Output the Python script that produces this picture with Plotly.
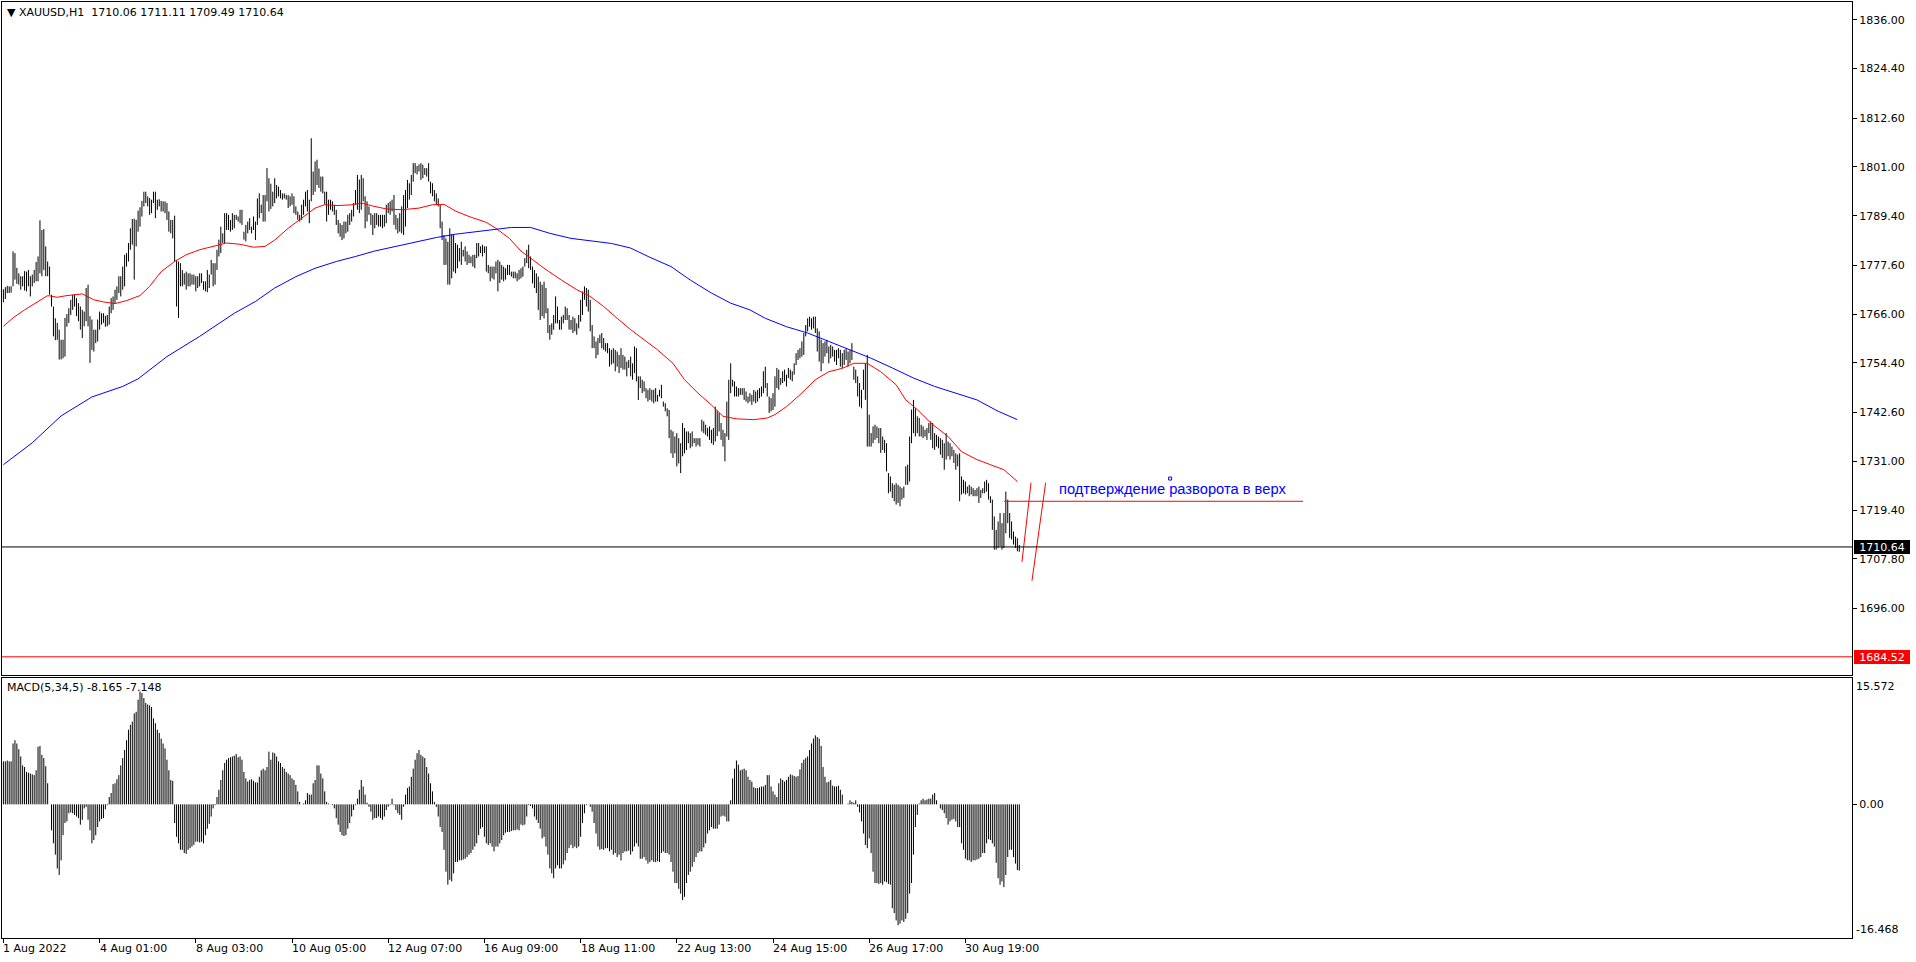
import plotly.graph_objects as go

# XAUUSD H1, August 2022 - bar highs / lows
highs = [
    1771.9, 1772.4, 1772.7, 1772.6, 1772.6, 1780.9, 1780.5, 1777.0, 1775.7, 1775.0, 1775.0, 1776.2, 1776.1, 1776.5,
    1775.0, 1775.4, 1776.5, 1778.4, 1779.7, 1788.3, 1786.0, 1786.2, 1782.1, 1778.5, 1777.3, 1770.6, 1767.8, 1765.0,
    1763.9, 1762.3, 1759.9, 1759.9, 1765.1, 1766.0, 1767.4, 1769.4, 1770.6, 1770.6, 1769.8, 1768.6, 1767.8, 1767.0,
    1766.6, 1772.2, 1773.0, 1765.5, 1764.7, 1762.3, 1762.3, 1764.7, 1766.6, 1766.2, 1766.2, 1765.6, 1765.8, 1767.8,
    1769.8, 1770.2, 1771.8, 1772.6, 1775.0, 1775.0, 1777.3, 1780.1, 1780.5, 1782.9, 1786.4, 1788.6, 1788.7, 1788.4,
    1790.6, 1791.4, 1792.9, 1795.1, 1795.1, 1794.0, 1793.6, 1793.2, 1795.1, 1795.1, 1793.2, 1793.3, 1792.9, 1792.8,
    1792.8, 1792.4, 1790.4, 1788.4, 1788.4, 1789.4, 1778.9, 1778.5, 1778.1, 1776.5, 1775.7, 1776.1, 1775.7, 1775.7,
    1775.4, 1775.4, 1775.0, 1775.0, 1775.7, 1775.7, 1773.8, 1773.8, 1776.5, 1775.4, 1778.9, 1778.1, 1778.1, 1781.3,
    1783.7, 1786.8, 1785.2, 1790.0, 1790.0, 1789.6, 1788.4, 1790.0, 1789.6, 1789.6, 1789.2, 1790.8, 1790.8, 1785.6,
    1787.2, 1788.0, 1788.8, 1786.8, 1789.2,
    1788.0, 1793.5, 1794.7, 1792.0, 1794.3, 1794.3, 1800.7, 1798.3, 1797.0, 1795.1, 1798.3, 1796.7, 1796.3, 1795.5,
    1794.7, 1794.7, 1794.3, 1794.3, 1794.0, 1794.7, 1794.0, 1791.6, 1790.4, 1789.6, 1792.0, 1793.2, 1795.1, 1795.5,
    1793.2, 1807.8, 1799.9, 1802.3, 1802.7, 1800.6, 1798.7, 1798.7, 1795.1, 1795.1, 1793.2, 1793.2, 1792.8, 1792.0,
    1790.8, 1788.4, 1787.6, 1787.2, 1788.0, 1788.0, 1789.6, 1790.0, 1790.8, 1792.4, 1795.5, 1799.1, 1798.0, 1799.1,
    1798.3, 1794.0, 1792.8, 1791.6, 1790.0, 1789.6, 1790.0, 1790.0, 1789.6, 1789.6, 1789.6, 1789.6, 1792.0, 1792.4,
    1792.8, 1793.2, 1794.3, 1789.6, 1788.8, 1790.0, 1791.6, 1794.3, 1795.5, 1797.9, 1797.1, 1799.1, 1801.9, 1801.9,
    1801.2, 1801.6, 1801.9, 1801.5, 1800.7, 1800.7, 1801.9, 1797.5, 1797.1, 1795.5, 1794.7, 1793.5, 1792.0, 1788.0,
    1784.8, 1784.0, 1783.2, 1786.4, 1785.0, 1784.8, 1782.9, 1782.5, 1781.7, 1783.2, 1781.3, 1782.1, 1780.9, 1780.1,
    1779.7, 1780.1, 1780.1, 1782.9, 1782.9, 1782.1, 1782.5, 1782.1, 1782.1, 1777.7, 1777.3, 1777.3, 1777.3, 1778.5,
    1778.9, 1778.5, 1777.7, 1777.3, 1776.9, 1777.7, 1777.7, 1776.1, 1776.1, 1776.1, 1775.7, 1776.5,
    1776.9, 1777.3, 1779.3, 1781.3, 1782.5, 1779.7, 1777.3, 1776.5, 1775.7, 1774.9, 1773.7, 1773.0, 1773.7, 1772.2,
    1767.4, 1763.4, 1763.8, 1765.8, 1770.2, 1767.8, 1764.6, 1765.4, 1765.8, 1767.8, 1767.4, 1765.8, 1764.6, 1765.4,
    1765.0, 1763.8, 1765.8, 1769.4, 1771.4, 1772.6, 1772.2, 1771.8, 1769.4, 1763.4, 1760.7, 1759.5, 1760.3, 1761.1,
    1761.5, 1760.3, 1759.1, 1759.1, 1757.9, 1757.5, 1757.9, 1757.5, 1757.1, 1756.3, 1757.9, 1756.3, 1755.9, 1754.7,
    1755.1, 1755.9, 1754.3, 1758.3, 1757.9, 1751.2, 1751.2, 1750.4, 1750.0, 1748.4, 1748.0, 1748.4, 1748.0, 1748.0,
    1748.4, 1746.8, 1748.0, 1749.2, 1745.2, 1744.8, 1743.6, 1743.2, 1738.5, 1738.1, 1736.9, 1737.7, 1736.5, 1735.3,
    1740.1, 1738.9, 1738.1, 1738.1, 1737.7, 1738.1, 1736.5, 1736.5, 1736.5, 1736.5, 1740.9, 1740.5, 1739.7, 1738.9,
    1739.3, 1738.5, 1738.9, 1744.0, 1743.0, 1742.5, 1740.1, 1738.5, 1737.7, 1745.2, 1750.4, 1754.3, 1750.4, 1750.0,
    1748.8, 1748.4, 1748.4, 1748.4, 1748.4, 1747.6, 1746.4, 1747.2, 1746.8, 1748.0, 1747.6, 1748.0, 1748.4, 1748.8,
    1752.4, 1753.5, 1749.6, 1746.4, 1746.0, 1747.2,
    1751.2, 1753.2, 1752.8, 1750.8, 1752.4, 1752.8, 1751.6, 1753.2, 1752.8, 1752.4, 1754.3, 1756.7, 1757.5, 1757.9,
    1759.5, 1761.5, 1763.4, 1765.0, 1765.4, 1765.0, 1765.4, 1765.4, 1762.6, 1761.9, 1759.9, 1759.1, 1759.5, 1759.9,
    1758.3, 1758.7, 1758.3, 1757.5, 1757.5, 1757.9, 1757.5, 1756.7, 1757.5, 1757.9, 1757.1, 1757.5, 1759.1, 1753.5,
    1752.8, 1751.2, 1749.6, 1748.0, 1752.8, 1754.3, 1756.3, 1742.1, 1737.7, 1739.3, 1739.7, 1739.3, 1738.9, 1738.9,
    1736.9, 1736.1, 1735.3, 1728.2, 1727.4, 1725.8, 1725.4, 1725.8, 1725.4, 1725.0, 1724.6, 1725.0, 1729.8, 1730.2,
    1736.9, 1743.3, 1745.6, 1743.6, 1741.7, 1741.3, 1739.7, 1739.3, 1738.5, 1738.9, 1740.1, 1740.5, 1740.1, 1737.7,
    1737.3, 1736.9, 1736.5, 1736.1, 1735.3, 1737.7, 1735.7, 1735.3, 1734.5, 1733.7, 1732.9, 1732.6, 1732.9, 1727.4,
    1726.6, 1726.2, 1725.0, 1725.4, 1725.0, 1724.6, 1724.2, 1724.6, 1725.0, 1724.2, 1724.6, 1726.2, 1726.6, 1725.8,
    1722.7, 1721.9, 1717.9, 1714.7, 1716.7, 1718.7, 1716.3, 1718.7, 1723.8, 1721.9, 1718.7, 1716.7, 1714.3, 1713.1,
    1712.7, 1711.11,
]

lows = [
    1768.8, 1769.6, 1771.0, 1771.0, 1771.1, 1772.6, 1774.2, 1773.2, 1773.0, 1771.8, 1772.6, 1771.6, 1771.4, 1772.6,
    1770.2, 1772.6, 1773.4, 1773.8, 1773.8, 1775.7, 1775.0, 1776.5, 1775.0, 1775.0, 1770.6, 1767.8, 1760.7, 1759.8,
    1759.9, 1755.2, 1755.2, 1755.5, 1755.9, 1763.0, 1763.9, 1765.8, 1767.0, 1767.8, 1765.5, 1764.3, 1762.3, 1760.3,
    1763.1, 1764.3, 1763.1, 1754.4, 1757.5, 1757.1, 1759.1, 1759.5, 1762.3, 1763.5, 1763.9, 1763.0, 1763.1, 1763.5,
    1766.2, 1767.0, 1768.6, 1769.4, 1771.0, 1770.2, 1771.8, 1772.6, 1777.3, 1778.5, 1781.3, 1782.5, 1774.2, 1782.1,
    1785.6, 1786.8, 1789.2, 1791.6, 1792.4, 1791.6, 1789.6, 1790.0, 1792.4, 1788.8, 1790.8, 1791.6, 1790.4, 1790.4,
    1790.0, 1788.4, 1785.6, 1785.2, 1784.0, 1778.5, 1767.8, 1765.1, 1772.6, 1772.6, 1773.0, 1771.8, 1772.6, 1772.6,
    1773.0, 1773.0, 1771.4, 1772.2, 1772.6, 1773.4, 1771.8, 1771.4, 1771.2, 1772.2, 1775.4, 1772.6, 1773.0, 1776.5,
    1779.7, 1780.5, 1782.9, 1782.9, 1786.0, 1786.0, 1785.6, 1786.0, 1786.4, 1788.4, 1788.0, 1787.6, 1787.2, 1783.7,
    1783.3, 1785.2, 1786.0, 1785.2, 1786.0,
    1783.6, 1787.2, 1788.8, 1790.0, 1788.0, 1788.0, 1792.8, 1790.4, 1791.0, 1791.6, 1792.4, 1793.5, 1794.0, 1793.5,
    1793.2, 1793.5, 1793.2, 1791.2, 1791.6, 1792.0, 1790.0, 1789.6, 1788.4, 1788.0, 1788.4, 1789.6, 1791.6, 1790.4,
    1787.6, 1792.8, 1794.3, 1795.1, 1796.7, 1796.0, 1795.1, 1794.7, 1792.0, 1788.0, 1789.6, 1790.8, 1790.4, 1789.6,
    1787.2, 1785.2, 1784.4, 1783.6, 1784.0, 1785.2, 1785.6, 1787.2, 1788.0, 1789.2, 1792.0, 1790.8, 1790.0, 1790.8,
    1792.8, 1786.4, 1788.0, 1789.6, 1787.2, 1784.8, 1786.4, 1787.2, 1786.8, 1786.8, 1786.4, 1786.8, 1787.6, 1790.0,
    1789.6, 1790.4, 1787.2, 1786.1, 1785.2, 1785.6, 1785.2, 1784.8, 1786.8, 1791.2, 1793.2, 1794.3, 1797.5, 1799.5,
    1799.2, 1799.9, 1797.9, 1798.3, 1799.1, 1798.7, 1797.5, 1794.7, 1794.0, 1792.8, 1792.0, 1791.6, 1786.4, 1783.6,
    1777.7, 1777.7, 1773.0, 1773.0, 1774.5, 1776.1, 1775.7, 1776.9, 1778.5, 1777.7, 1779.7, 1778.5, 1777.7, 1778.1,
    1778.1, 1777.3, 1776.9, 1779.3, 1779.7, 1780.5, 1779.7, 1780.5, 1776.1, 1775.7, 1773.8, 1774.5, 1774.2, 1775.7,
    1771.4, 1773.4, 1774.2, 1773.8, 1774.2, 1775.3, 1775.3, 1774.9, 1774.5, 1774.5, 1773.8, 1774.2,
    1774.5, 1774.9, 1777.3, 1778.1, 1776.9, 1776.5, 1773.3, 1772.2, 1771.0, 1767.0, 1764.6, 1765.5, 1765.0, 1766.2,
    1761.5, 1759.9, 1761.1, 1762.3, 1763.8, 1763.8, 1762.3, 1762.3, 1763.8, 1764.6, 1764.6, 1762.3, 1762.3, 1761.5,
    1761.9, 1761.1, 1762.6, 1764.2, 1765.8, 1769.4, 1767.8, 1766.6, 1761.9, 1757.9, 1757.9, 1755.5, 1756.3, 1759.1,
    1757.9, 1757.5, 1757.1, 1756.7, 1753.5, 1754.0, 1754.3, 1752.4, 1753.5, 1752.0, 1753.2, 1752.8, 1752.8, 1751.2,
    1753.2, 1751.2, 1750.4, 1752.0, 1750.0, 1745.6, 1748.4, 1747.2, 1747.6, 1746.0, 1745.2, 1745.6, 1745.2, 1744.8,
    1745.2, 1745.2, 1746.4, 1746.0, 1744.0, 1742.9, 1741.7, 1736.5, 1732.9, 1731.8, 1732.9, 1729.8, 1730.5, 1728.2,
    1732.2, 1732.9, 1733.7, 1735.3, 1734.1, 1734.5, 1735.3, 1734.5, 1734.9, 1734.5, 1738.1, 1737.7, 1737.3, 1736.9,
    1736.1, 1735.3, 1734.9, 1735.7, 1737.0, 1738.1, 1736.1, 1734.5, 1731.0, 1736.9, 1736.1, 1747.2, 1748.8, 1746.4,
    1746.4, 1746.4, 1746.8, 1746.8, 1745.6, 1745.2, 1744.8, 1745.2, 1744.4, 1745.2, 1744.8, 1745.2, 1746.0, 1746.4,
    1747.2, 1748.4, 1746.4, 1742.5, 1742.9, 1743.2,
    1744.0, 1748.4, 1748.0, 1749.2, 1749.6, 1750.0, 1748.8, 1750.8, 1750.4, 1750.0, 1751.6, 1753.9, 1755.1, 1755.5,
    1755.9, 1756.3, 1760.7, 1761.9, 1763.0, 1762.3, 1762.6, 1761.5, 1757.1, 1754.7, 1752.4, 1754.3, 1755.9, 1756.7,
    1754.3, 1755.5, 1755.9, 1754.7, 1753.9, 1755.5, 1753.5, 1753.2, 1753.9, 1755.1, 1753.5, 1754.3, 1755.1, 1750.4,
    1749.6, 1746.4, 1744.0, 1743.6, 1748.0, 1745.6, 1734.5, 1734.5, 1734.5, 1735.3, 1736.1, 1736.5, 1735.3, 1733.0,
    1733.7, 1733.0, 1728.6, 1723.4, 1723.8, 1722.3, 1721.5, 1720.7, 1721.1, 1720.3, 1721.9, 1722.3, 1725.4, 1725.4,
    1726.2, 1735.3, 1737.7, 1736.9, 1737.7, 1736.9, 1736.9, 1736.5, 1736.9, 1736.1, 1737.7, 1736.1, 1734.1, 1733.7,
    1734.5, 1734.1, 1732.6, 1731.8, 1729.0, 1731.4, 1732.2, 1731.4, 1732.2, 1730.6, 1729.0, 1729.8, 1721.5, 1723.1,
    1723.4, 1723.1, 1723.4, 1722.7, 1723.1, 1722.7, 1722.7, 1722.7, 1721.1, 1722.3, 1723.4, 1723.4, 1723.8, 1721.9,
    1721.1, 1714.7, 1710.0, 1710.0, 1710.4, 1710.8, 1710.0, 1710.4, 1713.9, 1716.3, 1712.8, 1712.4, 1711.2, 1710.4,
    1709.6, 1709.49,
]

last_ohlc = [1710.06, 1711.11, 1709.49, 1710.64]

# moving averages, sampled along the drawn curves (bar index -> price)
red_ma_idx = [0, 5, 11, 17, 23, 28, 33, 41, 47, 52, 58, 64, 71, 76, 82, 89, 95, 102, 109, 116, 123, 130, 136,
              141, 148, 155, 162, 167, 174, 181, 186, 192, 199, 207, 216, 223, 229, 235, 242, 251, 256, 263, 269,
              274, 281, 290, 298, 305, 312, 319, 326, 333, 340, 348, 354, 361, 368, 374, 381, 390, 397, 401, 407,
              414, 422, 429, 436, 442, 449, 456, 464, 469, 475, 482, 491, 498, 506, 513, 520, 527]
red_ma = [1763.1, 1765.1, 1767.0, 1768.6, 1770.4, 1770.0, 1770.4, 1770.8, 1769.4, 1768.9, 1768.5, 1769.2, 1770.4,
          1772.6, 1776.1, 1778.5, 1780.1, 1781.3, 1782.1, 1782.9, 1782.6, 1781.9, 1782.1, 1783.6, 1786.4, 1788.8,
          1791.2, 1792.0, 1791.8, 1792.0, 1792.4, 1791.7, 1791.0, 1790.8, 1791.2, 1792.0, 1792.1, 1790.5, 1789.2,
          1787.8, 1786.4, 1784.0, 1781.0, 1779.3, 1776.9, 1774.1, 1771.8, 1770.2, 1767.8, 1765.0, 1762.3, 1759.9,
          1757.5, 1754.3, 1750.4, 1747.2, 1744.4, 1741.7, 1741.1, 1740.9, 1741.3, 1742.1, 1744.0, 1746.8, 1750.4,
          1752.3, 1753.1, 1754.3, 1754.3, 1752.3, 1749.2, 1745.6, 1743.3, 1740.1, 1736.9, 1733.3, 1731.4, 1730.2,
          1729.0, 1726.2]

blue_ma_idx = [0, 15, 30, 46, 62, 70, 85, 102, 120, 131, 141, 152, 162, 173, 183, 193, 204, 214, 225, 235, 245,
               256, 264, 274, 284, 295, 305, 316, 326, 336, 347, 357, 368, 378, 388, 396, 407, 418, 429, 440, 451,
               462, 473, 484, 495, 506, 517, 527]
blue_ma = [1730.2, 1735.4, 1741.8, 1746.3, 1748.8, 1750.6, 1755.9, 1760.7, 1766.2, 1769.0, 1772.2, 1774.9, 1776.9,
           1778.5, 1779.7, 1781.0, 1782.1, 1783.1, 1784.2, 1785.0, 1785.6, 1786.2, 1786.6, 1786.6, 1785.2, 1784.0,
           1783.5, 1782.8, 1781.7, 1779.5, 1777.3, 1774.1, 1771.0, 1768.6, 1767.0, 1765.0, 1763.0, 1761.5, 1759.5,
           1757.5, 1755.5, 1753.2, 1750.8, 1748.8, 1747.2, 1745.6, 1742.9, 1740.9]

# MACD(5,34,5) histogram
macd = [
    5.3, 5.3, 5.4, 5.3, 5.3,
    7.5, 7.9, 7.5, 6.8, 5.9, 4.8, 4.6, 4.0, 3.9, 3.8, 3.7, 3.6, 4.2, 7.1, 7.2, 6.1, 5.7, 4.7, 2.6,
    0.0,
    -3.2, -4.8, -6.2, -7.9, -8.7, -6.9, -3.8, -2.3, -2.1, -1.1, -1.0, -1.1, -1.3, -1.5, -1.7, -2.5, -1.9, -0.5, -0.3,
    -1.9, -3.2, -4.8, -4.4, -3.8, -2.8, -2.1, -1.8, -1.7, -0.6, -0.1,
    0.9, 1.4, 2.5, 2.6, 3.1, 3.6, 4.8, 5.7, 6.7, 7.9, 9.2, 9.8, 10.2, 11.2, 11.4, 12.9, 13.9, 13.7, 13.1, 12.5, 12.3,
    12.2, 12.0, 10.6, 10.0, 9.2, 8.8, 8.1, 7.5, 6.9, 5.5, 4.2, 3.0, 2.9,
    -2.3, -4.0, -4.8, -5.6, -5.6, -6.0, -6.1, -5.6, -5.4, -5.2, -5.0, -4.6, -4.6, -4.7, -4.6, -4.8, -3.8, -3.0, -2.4,
    -1.5, -0.5, -0.1,
    0.9, 1.8, 3.0, 4.2, 5.1, 5.5, 5.7, 5.8, 5.9, 6.0, 6.2, 5.8, 5.9, 5.5, 4.0, 3.2, 2.8, 3.0, 3.1, 2.9, 2.7, 2.7, 3.4,
    4.2, 4.4, 4.2, 4.6, 6.5, 5.5, 6.4, 6.3, 5.9, 5.3, 5.1, 4.6, 4.4, 4.0, 3.8, 3.6, 3.2, 3.0, 2.4, 1.6, 0.3, 0.0, 0.1,
    0.5, 1.4, 1.2, 1.2, 2.6, 3.0, 4.8, 4.8, 3.8, 3.2, 1.6, 0.3, 0.1, 0.0,
    -0.1, -0.5, -1.7, -2.5, -3.4, -3.8, -3.9, -3.8, -3.0, -2.3, -1.5, -0.7, -0.1,
    0.7, 1.8, 3.0, 2.2, 1.2, 0.2,
    -0.3, -0.9, -1.9, -1.7, -1.7, -1.5, -1.7, -1.9, -1.5, -0.7, -0.3, -0.1,
    0.7, -0.1, -0.7, -1.1, -1.3, -1.9, -0.3,
    1.2, 2.0, 2.2, 3.4, 4.4, 5.5, 6.3, 6.7, 6.1, 5.9, 5.7, 4.6, 3.8, 2.6, 1.6, 0.3,
    -0.3, -1.5, -2.8, -3.4, -5.6, -8.3, -9.9, -9.3, -9.5, -8.5, -7.1, -7.1, -6.9, -6.9, -6.8, -6.7, -6.5, -6.2, -6.0,
    -5.6, -5.2, -4.8, -3.8, -3.0, -2.8, -4.0, -4.8, -5.0, -4.8, -5.2, -5.8, -5.2, -5.2, -4.8, -4.4, -3.8, -3.5, -3.4,
    -3.4, -3.3, -3.2, -3.2, -3.1, -3.2,
    -2.5, -2.6, -2.5, -1.5, -0.1, -0.2, -0.5, -1.5, -1.9, -2.3, -3.0, -4.2, -4.0, -5.2, -6.2, -7.9, -8.5, -9.1, -7.9,
    -7.5, -7.9, -7.9, -7.4, -6.9, -6.0, -5.4, -5.0, -5.4, -5.2, -5.4, -5.2, -4.0, -2.3, -1.1, -0.1, 0.0, -0.3, -0.9,
    -2.3, -3.6, -5.2, -5.6, -5.5, -5.6, -5.4, -5.4, -5.8, -5.6, -6.2, -6.0, -6.5, -6.2, -6.9, -6.0, -5.8, -5.8, -5.7,
    -6.2, -5.8, -5.2, -4.8, -5.2, -6.7, -6.7, -6.5, -6.9, -7.3, -7.1, -6.9, -7.1, -7.1, -7.0, -7.1, -6.0, -5.8, -6.0,
    -6.0, -6.2, -7.1, -8.3, -9.7, -9.7, -10.4, -11.0, -11.8, -11.4, -9.7, -8.7, -8.3, -7.7, -7.1, -6.5, -6.0, -5.8,
    -5.8, -5.3, -4.8, -3.6, -3.2, -2.8, -3.0, -3.0, -3.0, -2.5, -1.5, -1.4, -1.5, -2.1, -2.1, 0.5,
    3.2, 4.4, 5.4, 4.9, 4.2, 4.3, 4.4, 4.2, 3.4, 3.0, 2.8, 2.1, 2.0, 2.0, 2.1, 2.2, 2.2, 2.4, 3.6, 3.6, 2.2, 1.6, 1.2,
    0.9, 2.6, 3.2, 3.0, 2.8, 3.0, 3.4, 3.7, 3.6, 3.5, 3.4, 3.5, 4.3, 5.1, 5.5, 5.7, 5.9, 6.7, 7.5, 8.1, 8.5, 8.3, 8.1,
    7.2, 4.6, 3.4, 2.7, 2.8, 3.0, 2.3, 2.2, 2.2, 2.3, 1.8, 1.2, 0.0, 0.0, 0.1, 0.5, 0.3, 0.2, 0.5,
    -0.3, -1.0, -2.1, -3.6, -5.0, -5.4, -4.2, -6.0, -8.3, -9.7, -9.7, -9.8, -9.7, -9.9, -9.5, -9.6, -9.8, -9.9, -12.8,
    -13.4, -14.3, -14.9, -14.7, -14.3, -14.5, -14.1, -13.4, -11.0, -9.7, -6.2, -2.8, -1.3,
    0.1, 0.5, 0.7, 0.5, 0.6, 0.7, 0.7, 1.2, 1.4, 0.5, 0.0,
    -0.5, -0.7, -1.1, -1.7, -2.5, -2.1, -1.9, -1.8, -2.1, -2.8, -2.8, -4.8, -5.6, -6.7, -6.9, -6.9, -7.1, -6.9, -6.9,
    -6.8, -6.7, -6.5, -6.0, -6.0, -4.8, -4.3, -4.4, -4.8, -5.2, -7.2, -9.1, -9.9, -9.5, -10.2, -8.7, -6.5, -5.6, -5.6,
    -6.5, -7.3, -8.1, -8.165,
]
macd_last = -8.165
signal_last = -7.148

price_ticks = [1836.0, 1824.4, 1812.6, 1801.0, 1789.4, 1777.6, 1766.0, 1754.4, 1742.6, 1731.0, 1719.4, 1707.8, 1696.0]
price_range = [1680.2, 1840.2]
macd_range = [-16.468, 15.572]
level_red = 1684.52

time_tick_idx = [0, 50, 100, 150, 200, 250, 300, 350, 400, 450, 500]
time_tick_labels = ["1 Aug 2022", "4 Aug 01:00", "8 Aug 03:00", "10 Aug 05:00", "12 Aug 07:00", "16 Aug 09:00",
                    "18 Aug 11:00", "22 Aug 13:00", "24 Aug 15:00", "26 Aug 17:00", "30 Aug 19:00"]

# hand drawn objects on the chart (bar index, price)
red_strokes = [[(529.4, 1707.1), (534.1, 1725.9)], [(534.6, 1702.6), (541.7, 1725.9)]]
red_level = [(520.1, 1721.5), (675.5, 1721.5)]
note_text = "подтверждение разворота в верх"
note_pos = (547.7, 1724.5)
note_anchor = (606.4, 1726.9)

FONT = "DejaVu Sans"

# bars: one vertical stroke low -> high per hour
bx, by = [], []
for i in range(len(highs)):
    bx += [i, i, None]
    by += [lows[i], highs[i], None]

# histogram: one stroke from zero per hour
hx, hy = [], []
for i, v in enumerate(macd):
    hx += [i, i, None]
    hy += [0, v, None]

fig = go.Figure()
fig.add_trace(go.Scatter(x=bx, y=by, mode="lines", line=dict(color="black", width=1),
                         hoverinfo="skip", xaxis="x", yaxis="y"))
fig.add_trace(go.Scatter(x=red_ma_idx, y=red_ma, mode="lines", line=dict(color="#ff0000", width=1),
                         xaxis="x", yaxis="y"))
fig.add_trace(go.Scatter(x=blue_ma_idx, y=blue_ma, mode="lines", line=dict(color="#0000ff", width=1),
                         xaxis="x", yaxis="y"))
for s in red_strokes:
    fig.add_trace(go.Scatter(x=[p[0] for p in s], y=[p[1] for p in s], mode="lines",
                             line=dict(color="#ff0000", width=1), xaxis="x", yaxis="y"))
fig.add_trace(go.Scatter(x=[p[0] for p in red_level], y=[p[1] for p in red_level], mode="lines",
                         line=dict(color="#ff0000", width=1), xaxis="x", yaxis="y"))
fig.add_trace(go.Scatter(x=[note_anchor[0]], y=[note_anchor[1]], mode="markers",
                         marker=dict(symbol="square-open", size=3, color="#0000ff", line=dict(width=1)),
                         xaxis="x", yaxis="y"))
fig.add_trace(go.Scatter(x=hx, y=hy, mode="lines", line=dict(color="black", width=1),
                         hoverinfo="skip", xaxis="x2", yaxis="y2"))

n_span = [-0.73, 960.8]
axis_common = dict(showgrid=False, zeroline=False, showline=True, mirror=True, linecolor="black", linewidth=1)

fig.update_layout(
    width=1916, height=962,
    margin=dict(l=2, r=64, t=2, b=24),
    paper_bgcolor="white", plot_bgcolor="white",
    showlegend=False, hovermode=False,
    font=dict(family=FONT, size=11, color="black"),
    xaxis=dict(domain=[0, 1], anchor="y", range=n_span, showticklabels=False, ticks="", **axis_common),
    xaxis2=dict(domain=[0, 1], anchor="y2", range=n_span, matches="x", showticklabels=False,
                ticks="outside", ticklen=4, tickcolor="black", tickvals=time_tick_idx, **axis_common),
    yaxis=dict(domain=[0.281, 1], anchor="x", range=price_range, side="right", ticks="outside", ticklen=4,
               tickcolor="black", tickvals=price_ticks, ticktext=["%.2f" % v for v in price_ticks],
               tickfont=dict(family=FONT, size=11), **axis_common),
    yaxis2=dict(domain=[0, 0.2778], anchor="x2", range=macd_range, side="right", ticks="outside", ticklen=4,
                tickcolor="black", tickvals=[0], ticktext=["0.00"], tickfont=dict(family=FONT, size=11),
                **axis_common),
)

# full width price levels
fig.add_shape(type="line", xref="paper", x0=0, x1=1, yref="y", y0=last_ohlc[3], y1=last_ohlc[3],
              line=dict(color="black", width=1))
fig.add_shape(type="line", xref="paper", x0=0, x1=1, yref="y", y0=level_red, y1=level_red,
              line=dict(color="#ff0000", width=1))

annotations = []
annotations.append(dict(xref="paper", x=0, xanchor="left", xshift=3, yref="y domain", y=1, yanchor="top",
                        yshift=-2, showarrow=False, font=dict(family=FONT, size=11, color="black"),
                        text="▼&nbsp;XAUUSD,H1&nbsp;&nbsp;" + " ".join("%.2f" % v for v in last_ohlc)))
annotations.append(dict(xref="paper", x=0, xanchor="left", xshift=3, yref="y2 domain", y=1, yanchor="top",
                        yshift=-1, showarrow=False, font=dict(family=FONT, size=11, color="black"),
                        text="MACD(5,34,5) %.3f %.3f" % (macd_last, signal_last)))
for val, bg in [(last_ohlc[3], "black"), (level_red, "#ff0000")]:
    annotations.append(dict(xref="paper", x=1, xanchor="left", xshift=2, yref="y", y=val,
                            yanchor="middle", showarrow=False, bgcolor=bg, borderpad=1, borderwidth=0,
                            width=54, height=12, align="center",
                            font=dict(family=FONT, size=11, color="white"), text="%.2f" % val))
annotations.append(dict(xref="paper", x=1, xanchor="left", xshift=2, yref="y2", y=macd_range[1],
                        yanchor="top", showarrow=False, font=dict(family=FONT, size=11, color="black"),
                        text="%.3f" % macd_range[1]))
annotations.append(dict(xref="paper", x=1, xanchor="left", xshift=2, yref="y2", y=macd_range[0],
                        yanchor="bottom", showarrow=False, font=dict(family=FONT, size=11, color="black"),
                        text="%.3f" % macd_range[0]))
for i, lab in zip(time_tick_idx, time_tick_labels):
    annotations.append(dict(xref="x2", x=i, xanchor="left", xshift=-2, yref="paper", y=0, yanchor="top",
                            yshift=-2, showarrow=False, font=dict(family=FONT, size=11, color="black"),
                            text=lab))
annotations.append(dict(xref="x", x=note_pos[0], xanchor="left", yref="y", y=note_pos[1], yanchor="middle",
                        showarrow=False, font=dict(family="Liberation Sans", size=14.7, color="#0000ff"),
                        text=note_text))
fig.update_layout(annotations=annotations)

# page without the default body margin so the 1916x962 figure fills the window
fig.write_html("out.html", config={"displayModeBar": False},
               post_script="document.body.style.margin='0';document.body.style.overflow='hidden';")
